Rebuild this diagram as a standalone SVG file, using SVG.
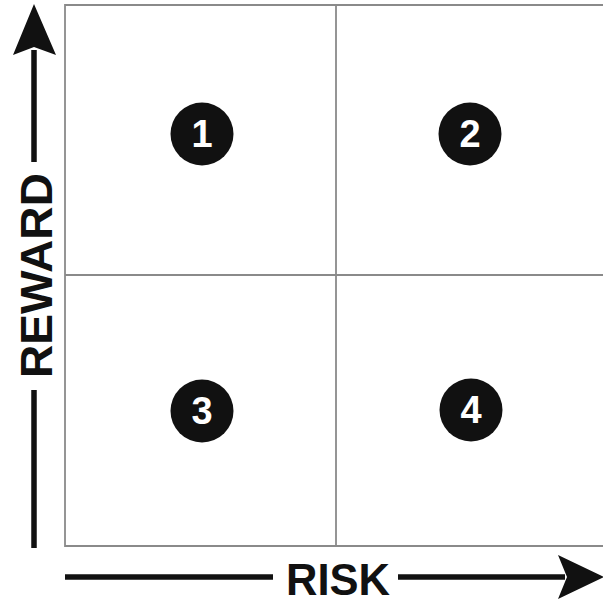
<svg xmlns="http://www.w3.org/2000/svg" width="603" height="603" viewBox="0 0 603 603">
<style>
.grid{fill:none;stroke:#8a8a8a;stroke-width:1.8}
.axis{stroke:#111;stroke-width:5.5;fill:none}
.head{fill:#111}
.lbl{font-family:"Liberation Sans",Arial,sans-serif;font-weight:bold;font-size:44px;fill:#111}
.dot{fill:#111}
.num{font-family:"Liberation Sans",Arial,sans-serif;font-weight:bold;font-size:38px;fill:#fff;text-anchor:middle}
</style>
<rect width="603" height="603" fill="#fff"/>
<g id="grid">
<path class="grid" d="M610,5 H65 V546 H610"/>
<line class="grid" x1="336" y1="5" x2="336" y2="546"/>
<line class="grid" x1="65" y1="275" x2="610" y2="275"/>
</g>
<g id="connectors">
<line class="axis" x1="34" y1="50" x2="34" y2="162"/>
<line class="axis" x1="34" y1="390" x2="34" y2="548"/>
<polygon class="head" points="34,4 56,55 34,47 13,55"/>
<line class="axis" x1="65" y1="577" x2="273" y2="577"/>
<line class="axis" x1="398" y1="577" x2="565" y2="577"/>
<polygon class="head" points="604,577 558,599 567,577 558,555"/>
</g>
<g id="reward-label"><text class="lbl" transform="translate(52,378) rotate(-90)" textLength="205" lengthAdjust="spacingAndGlyphs">REWARD</text></g>
<g id="risk-label"><text class="lbl" x="286" y="595" textLength="104" lengthAdjust="spacingAndGlyphs">RISK</text></g>
<g id="q1"><circle class="dot" cx="202" cy="134" r="31.5"/><text class="num" x="202" y="147">1</text></g>
<g id="q2"><circle class="dot" cx="470" cy="134" r="31.5"/><text class="num" x="470" y="147">2</text></g>
<g id="q3"><circle class="dot" cx="202" cy="411" r="31.5"/><text class="num" x="202" y="424">3</text></g>
<g id="q4"><circle class="dot" cx="471" cy="410" r="31.5"/><text class="num" x="471" y="423">4</text></g>
</svg>
